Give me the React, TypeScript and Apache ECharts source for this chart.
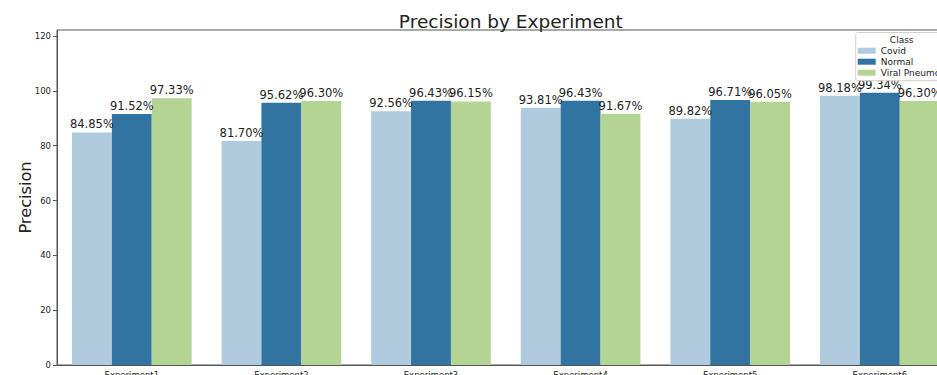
import React, { useEffect, useRef } from "react";
import * as echarts from "echarts";

const categories = ["Experiment1", "Experiment2", "Experiment3", "Experiment4", "Experiment5", "Experiment6"];
const covid = [84.85, 81.7, 92.56, 93.81, 89.82, 98.18];
const normal = [91.52, 95.62, 96.43, 96.43, 96.71, 99.34];
const viral = [97.33, 96.3, 96.15, 91.67, 96.05, 96.3];
const yTicks = [0, 20, 40, 60, 80, 100, 120];
const seriesNames = ["Covid", "Normal", "Viral Pneumonia"];
const colors = ["#afcbdd", "#3174a1", "#b4d494"];

const FONT = "DejaVu Sans";

export default function App() {
  const ref = useRef<HTMLDivElement>(null);
  useEffect(() => {
    if (!ref.current) return;
    const chart = echarts.init(ref.current, undefined, { renderer: "svg" });
    const mk = (name: string, data: number[], color: string) => ({
      name,
      type: "bar",
      data,
      barGap: "0%",
      barCategoryGap: "20%",
      itemStyle: { color },
      label: {
        show: true,
        position: "top",
        distance: 2,
        formatter: (p: any) => p.value.toFixed(2) + "%",
        fontFamily: FONT,
        fontSize: 11.5,
        color: "#222",
      },
    });
    chart.setOption({
      animation: false,
      textStyle: { fontFamily: FONT },
      title: {
        text: "Precision by Experiment",
        left: 505.8,
        textAlign: "center",
        top: 7,
        textStyle: { fontFamily: FONT, fontSize: 18.5, fontWeight: "normal", color: "#222" },
      },
      grid: {
        left: 57,
        top: 30,
        width: 897.6,
        height: 335,
        show: true,
        borderColor: "#555",
        borderWidth: 1,
        backgroundColor: "transparent",
      },
      legend: {
        data: seriesNames,
        orient: "vertical",
        left: 855.7,
        top: 32.5,
        padding: [12.7, 4, 2.5, 2],
        itemWidth: 18,
        itemHeight: 6,
        itemGap: 0,
        icon: "rect",
        backgroundColor: "rgba(255,255,255,0.8)",
        borderColor: "#d0d0d0",
        borderWidth: 1,
        borderRadius: 2,
        textStyle: { fontFamily: FONT, fontSize: 9, lineHeight: 11, color: "#222" },
      },
      graphic: [
        {
          type: "text",
          z: 100,
          x: 901.7,
          y: 40,
          style: {
            text: "Class",
            fontFamily: FONT,
            fontSize: 9,
            fill: "#222",
            textAlign: "center",
            textVerticalAlign: "middle",
          },
        },
      ],
      xAxis: {
        type: "category",
        data: categories,
        axisLine: { lineStyle: { color: "#555", width: 1 } },
        axisTick: { alignWithLabel: true, length: 4, lineStyle: { color: "#555" } },
        axisLabel: { fontFamily: FONT, fontSize: 8.5, color: "#222", margin: 5 },
      },
      yAxis: {
        type: "value",
        min: 0,
        max: 122.2,
        name: "Precision",
        nameLocation: "middle",
        nameGap: 24,
        nameMoveOverlap: false,
        nameTextStyle: { fontFamily: FONT, fontSize: 16.2, color: "#222" },
        splitLine: { show: false },
        axisLine: { show: true, lineStyle: { color: "#555", width: 1 } },
        axisTick: { show: true, length: 4, lineStyle: { color: "#555" }, customValues: yTicks },
        axisLabel: { fontFamily: FONT, fontSize: 8.5, color: "#222", margin: 6, customValues: yTicks },
      },
      series: [mk(seriesNames[0], covid, colors[0]), mk(seriesNames[1], normal, colors[1]), mk(seriesNames[2], viral, colors[2])],
    });
    return () => chart.dispose();
  }, []);
  return (
    <div style={{ position: "fixed", left: 0, top: 0, width: 937, height: 375, overflow: "hidden", background: "#fff" }}>
      <div ref={ref} style={{ width: 1000, height: 400 }} />
    </div>
  );
}
